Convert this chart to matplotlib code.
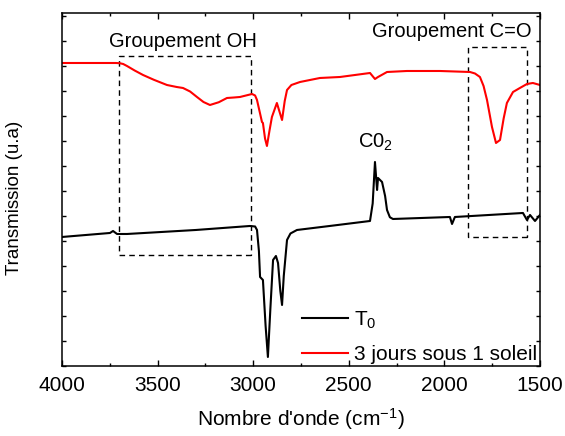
import matplotlib
matplotlib.use("Agg")
import matplotlib.pyplot as plt
from matplotlib.patches import Rectangle
from matplotlib.ticker import MultipleLocator, NullFormatter

plt.rcParams['font.family'] = ['Liberation Sans', 'DejaVu Sans']
plt.rcParams['mathtext.default'] = 'regular'

# spectrum T0 (black)
wn_t0 = [4000, 3749, 3733, 3712, 3660, 3300, 3017, 2990, 2980, 2970, 2964, 2949,
         2935, 2923, 2910, 2896, 2881, 2870, 2858, 2849, 2840, 2823, 2805, 2771,
         2600, 2389, 2375, 2363, 2352, 2347, 2326, 2310, 2300, 2285, 2269, 1971,
         1960, 1945, 1589, 1568, 1552, 1526, 1500]
tr_t0 = [5.16, 5.32, 5.40, 5.28, 5.28, 5.44, 5.60, 5.58, 5.44, 4.6, 3.56, 3.44,
         1.6, 0.36, 2.3, 4.24, 4.40, 4.12, 3.0, 2.44, 3.6, 5.04, 5.3, 5.44,
         5.60, 5.80, 6.5, 8.16, 7.04, 7.52, 7.36, 6.8, 6.24, 5.95, 5.88, 5.96,
         5.68, 5.96, 6.12, 5.84, 6.04, 5.80, 6.04]

# spectrum after 3 days (red)
wn_3j = [4000, 3718, 3697, 3680, 3660, 3620, 3576, 3520, 3451, 3400, 3367, 3330,
         3294, 3260, 3226, 3180, 3137, 3100, 3069, 3006, 2990, 2980, 2954, 2949,
         2938, 2928, 2915, 2902, 2876, 2865, 2849, 2835, 2823, 2800, 2755, 2651,
         2546, 2389, 2363, 2347, 2300, 2196, 2023, 1866, 1840, 1814, 1795, 1777,
         1751, 1730, 1709, 1690, 1673, 1641, 1605, 1568, 1537, 1500]
tr_3j = [12.12, 12.12, 12.11, 12.08, 12.0, 11.82, 11.64, 11.45, 11.24, 11.16,
         11.12, 10.98, 10.76, 10.56, 10.44, 10.55, 10.72, 10.74, 10.76, 10.88,
         10.82, 10.64, 9.76, 9.72, 9.1, 8.80, 9.4, 9.96, 10.52, 10.24, 9.84,
         10.6, 11.04, 11.24, 11.36, 11.52, 11.56, 11.72, 11.48, 11.56, 11.76,
         11.80, 11.80, 11.76, 11.70, 11.56, 11.2, 10.64, 9.56, 8.92, 9.04, 9.9,
         10.52, 10.96, 11.12, 11.28, 11.32, 11.24]

# dashed boxes: (wn_left, wn_right, y_bottom, y_top)
box_oh = (3702, 3011, 4.44, 12.4)
box_co = (1877, 1568, 5.16, 12.76)

fig = plt.figure(figsize=(5.65, 4.36), dpi=100)
ax = fig.add_axes([0.1097, 0.1606, 0.846, 0.8096])

ax.plot(wn_t0, tr_t0, color='black', lw=1.5, label='T$_0$')
ax.plot(wn_3j, tr_3j, color='red', lw=1.5, label='3 jours sous 1 soleil')

for b in (box_oh, box_co):
    ax.add_patch(Rectangle((b[1], b[2]), b[0] - b[1], b[3] - b[2], fill=False,
                           ls=(0, (4, 3)), lw=1.0, ec='black'))

ax.text(3367, 12.96, 'Groupement OH', fontsize=14.5, ha='center', va='center')
ax.text(1960, 13.36, 'Groupement C=O', fontsize=14.5, ha='center', va='center')
ax.text(2358, 8.95, 'C0$_2$', fontsize=14.5, ha='center', va='center')

ax.set_xlim(4000, 1500)
ax.set_ylim(0, 14.12)
ax.xaxis.set_major_locator(MultipleLocator(500))
ax.xaxis.set_minor_locator(MultipleLocator(250))
ax.yaxis.set_major_locator(MultipleLocator(1))
ax.yaxis.set_major_formatter(NullFormatter())
ax.tick_params(which='both', direction='in', top=True, right=True)
ax.tick_params(which='major', length=4, width=1, labelsize=15, pad=7)
ax.tick_params(which='minor', length=2.5, width=1)
ax.tick_params(axis='y', which='major', length=3)
for s in ax.spines.values():
    s.set_linewidth(1.1)

ax.set_xlabel("Nombre d'onde (cm$^{-1}$)", fontsize=15, labelpad=8)
ax.set_ylabel('Transmission (u.a)', fontsize=13.5)
ax.yaxis.set_label_coords(-0.082, 0.475)

ax.legend(loc='lower left', bbox_to_anchor=(0.463, -0.048), frameon=False,
          fontsize=15, handlelength=2.2, handletextpad=0.3, labelspacing=0.7)

fig.savefig('out.png', dpi=100)
